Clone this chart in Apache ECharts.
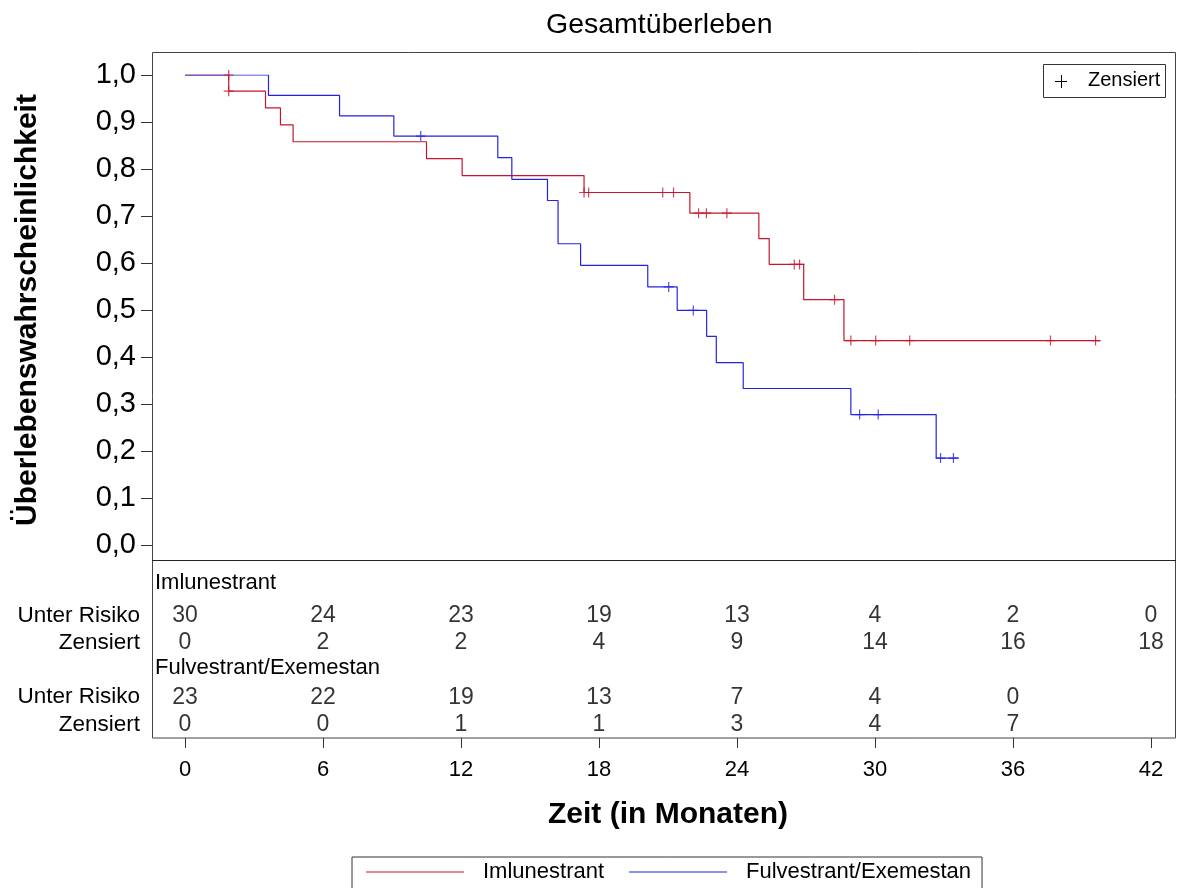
<!DOCTYPE html>
<html>
<head>
<meta charset="utf-8">
<script src="https://cdn.jsdelivr.net/npm/echarts@6/dist/echarts.min.js"></script>
<style>html,body{margin:0;padding:0;background:#fff}#c{width:1178px;height:888px}</style>
</head>
<body>
<div id="c"></div>
<script>
// ---- Data ----
const imlTimes = [0, 1.9, 3.5, 4.15, 4.7, 10.5, 12.05, 17.35, 21.95, 24.95, 25.4, 26.9, 28.65, 39.8];
const imlSurv  = [1, 0.9655, 0.930, 0.894, 0.858, 0.822, 0.786, 0.750, 0.706, 0.652, 0.597, 0.522, 0.435, 0.435];
const imlCensTimes = [1.9, 1.9, 17.35, 17.55, 20.77, 21.24, 22.33, 22.67, 23.56, 26.49, 26.72, 28.24, 28.95, 30.03, 31.51, 37.63, 39.59];
const imlCensSurv  = [1.0, 0.9655, 0.750, 0.750, 0.750, 0.750, 0.706, 0.706, 0.706, 0.597, 0.597, 0.522, 0.435, 0.435, 0.435, 0.435, 0.435];

const fulTimes = [0, 3.63, 6.72, 9.08, 13.6, 14.21, 15.76, 16.22, 17.2, 20.12, 21.4, 22.68, 23.1, 24.27, 28.95, 32.66, 33.64];
const fulSurv  = [1, 0.9565, 0.913, 0.870, 0.824, 0.778, 0.733, 0.641, 0.595, 0.549, 0.499, 0.444, 0.388, 0.333, 0.2775, 0.185, 0.185];
const fulCensTimes = [10.25, 21.03, 22.1, 29.33, 30.14, 32.85, 33.41];
const fulCensSurv  = [0.870, 0.549, 0.499, 0.2775, 0.2775, 0.185, 0.185];

const tableTimes = [0, 6, 12, 18, 24, 30, 36, 42];
const imlAtRisk = [30, 24, 23, 19, 13, 4, 2, 0];
const imlCens   = [0, 2, 2, 4, 9, 14, 16, 18];
const fulAtRisk = [23, 22, 19, 13, 7, 4, 0];
const fulCens   = [0, 0, 1, 1, 3, 4, 7];

const rowKeys   = ['hdr1', 'risk1', 'cens1', 'hdr2', 'risk2', 'cens2'];
const rowLabels = {hdr1: '', risk1: 'Unter Risiko', cens1: 'Zensiert', hdr2: '', risk2: 'Unter Risiko', cens2: 'Zensiert'};

const nameIml = 'Imlunestrant';
const nameFul = 'Fulvestrant/Exemestan';

// ---- Styles / layout ----
const RED = '#c8142e';
const BLUE = '#2424e0';
const FONT = "'Liberation Sans', Arial, sans-serif";
const PLUS = 'path://M5,0L5,10M0,5L10,5';
// plot frame spans x 152..1176 px; month 0 sits at 185 px, 23 px per month
const X_MIN = -33 / 23;
const X_MAX = 991 / 23;

const chart = echarts.init(document.getElementById('c'), null, {renderer: 'canvas'});

function tableSeries(values, row) {
  return {
    type: 'scatter', xAxisIndex: 1, yAxisIndex: 1, silent: true,
    symbolSize: 1, itemStyle: {color: 'rgba(0,0,0,0)'},
    data: values.map((v, i) => [tableTimes[i], row, v]),
    label: {show: true, position: 'inside', formatter: p => String(p.value[2]),
            fontSize: 23, color: '#000', fontFamily: FONT}
  };
}

const option = {
  animation: false,
  textStyle: {fontFamily: FONT},
  title: {
    text: 'Gesamtüberleben', left: 541, top: 6,
    textStyle: {fontFamily: FONT, fontSize: 28.5, fontWeight: 'normal', color: '#000'}
  },
  legend: {
    data: [nameIml, nameFul], left: 352, top: 857, orient: 'horizontal',
    icon: 'rect', itemWidth: 98, itemHeight: 1, itemGap: 25,
    padding: [4, 11, 12, 14], borderColor: '#333', borderWidth: 1,
    textStyle: {fontSize: 22, color: '#000', fontFamily: FONT, padding: [0, 0, 0, 14]}
  },
  grid: [
    {left: 152, top: 75, width: 1024, height: 470},
    {left: 185, top: 575, width: 966, height: 163}
  ],
  xAxis: [
    {gridIndex: 0, type: 'value', min: X_MIN, max: X_MAX, show: false},
    {gridIndex: 1, type: 'value', min: 0, max: 42, interval: 6,
     axisLine: {show: false},
     axisTick: {show: true, length: 10, lineStyle: {color: '#333'}},
     splitLine: {show: false},
     axisLabel: {margin: 21, fontSize: 22, color: '#000', fontFamily: FONT},
     name: 'Zeit (in Monaten)', nameLocation: 'middle', nameGap: 62,
     nameTextStyle: {fontSize: 30, fontWeight: 'bold', color: '#000', fontFamily: FONT}}
  ],
  yAxis: [
    {gridIndex: 0, type: 'value', min: 0, max: 1, interval: 0.1,
     axisLine: {show: false, onZero: false},
     axisTick: {show: true, length: 11, lineStyle: {color: '#333'}},
     splitLine: {show: false},
     axisLabel: {margin: 16, fontSize: 29, color: '#000', fontFamily: FONT,
                 formatter: v => v.toFixed(1).replace('.', ',')},
     name: 'Überlebenswahrscheinlichkeit', nameLocation: 'middle', nameRotate: 90, nameGap: 109,
     nameTextStyle: {fontSize: 30, fontWeight: 'bold', color: '#000', fontFamily: FONT}},
    {gridIndex: 1, type: 'category', inverse: true, data: rowKeys, offset: 33,
     axisLine: {show: false, onZero: false}, axisTick: {show: false}, splitLine: {show: false},
     axisLabel: {interval: 0, margin: 12, fontSize: 22.5, color: '#000', fontFamily: FONT,
                 formatter: v => rowLabels[v]}}
  ],
  series: [
    {type: 'line', name: nameIml, xAxisIndex: 0, yAxisIndex: 0, step: 'end', symbol: 'none', z: 2,
     data: imlTimes.map((t, i) => [t, imlSurv[i]]),
     lineStyle: {color: RED, width: 1.2}, itemStyle: {color: RED}},
    {type: 'line', name: nameFul, xAxisIndex: 0, yAxisIndex: 0, step: 'end', symbol: 'none', z: 3,
     data: fulTimes.map((t, i) => [t, fulSurv[i]]),
     lineStyle: {color: BLUE, width: 1.2}, itemStyle: {color: BLUE}},
    {type: 'scatter', name: 'Zensiert Iml', xAxisIndex: 0, yAxisIndex: 0, silent: true, z: 4,
     symbol: PLUS, symbolSize: 10,
     data: imlCensTimes.map((t, i) => [t, imlCensSurv[i]]),
     itemStyle: {color: 'rgba(0,0,0,0)', borderColor: RED, borderWidth: 1.2}},
    {type: 'scatter', name: 'Zensiert Ful', xAxisIndex: 0, yAxisIndex: 0, silent: true, z: 4,
     symbol: PLUS, symbolSize: 10,
     data: fulCensTimes.map((t, i) => [t, fulCensSurv[i]]),
     itemStyle: {color: 'rgba(0,0,0,0)', borderColor: BLUE, borderWidth: 1.2}},
    tableSeries(imlAtRisk, 1),
    tableSeries(imlCens, 2),
    tableSeries(fulAtRisk, 4),
    tableSeries(fulCens, 5)
  ],
  graphic: [
    {type: 'rect', shape: {x: 152.5, y: 52.5, width: 1023, height: 685.5},
     style: {fill: 'none', stroke: '#444', lineWidth: 1}, silent: true},
    {type: 'line', shape: {x1: 152, y1: 560.5, x2: 1176, y2: 560.5},
     style: {stroke: '#222', lineWidth: 1}, silent: true},
    {type: 'text', left: 155, top: 572,
     style: {text: nameIml, fontSize: 22, fill: '#000', fontFamily: FONT}},
    {type: 'text', left: 155, top: 657,
     style: {text: nameFul, fontSize: 22, fill: '#000', fontFamily: FONT}},
    {type: 'rect', shape: {x: 1043.5, y: 64.5, width: 122, height: 33},
     style: {fill: '#fff', stroke: '#333', lineWidth: 1}, silent: true},
    {type: 'line', shape: {x1: 1055, y1: 81.5, x2: 1067, y2: 81.5},
     style: {stroke: '#000', lineWidth: 1}, silent: true},
    {type: 'line', shape: {x1: 1061.5, y1: 75, x2: 1061.5, y2: 88},
     style: {stroke: '#000', lineWidth: 1}, silent: true},
    {type: 'text', left: 1088, top: 70,
     style: {text: 'Zensiert', fontSize: 20, fill: '#000', fontFamily: FONT}}
  ]
};

chart.setOption(option);
</script>
</body>
</html>
